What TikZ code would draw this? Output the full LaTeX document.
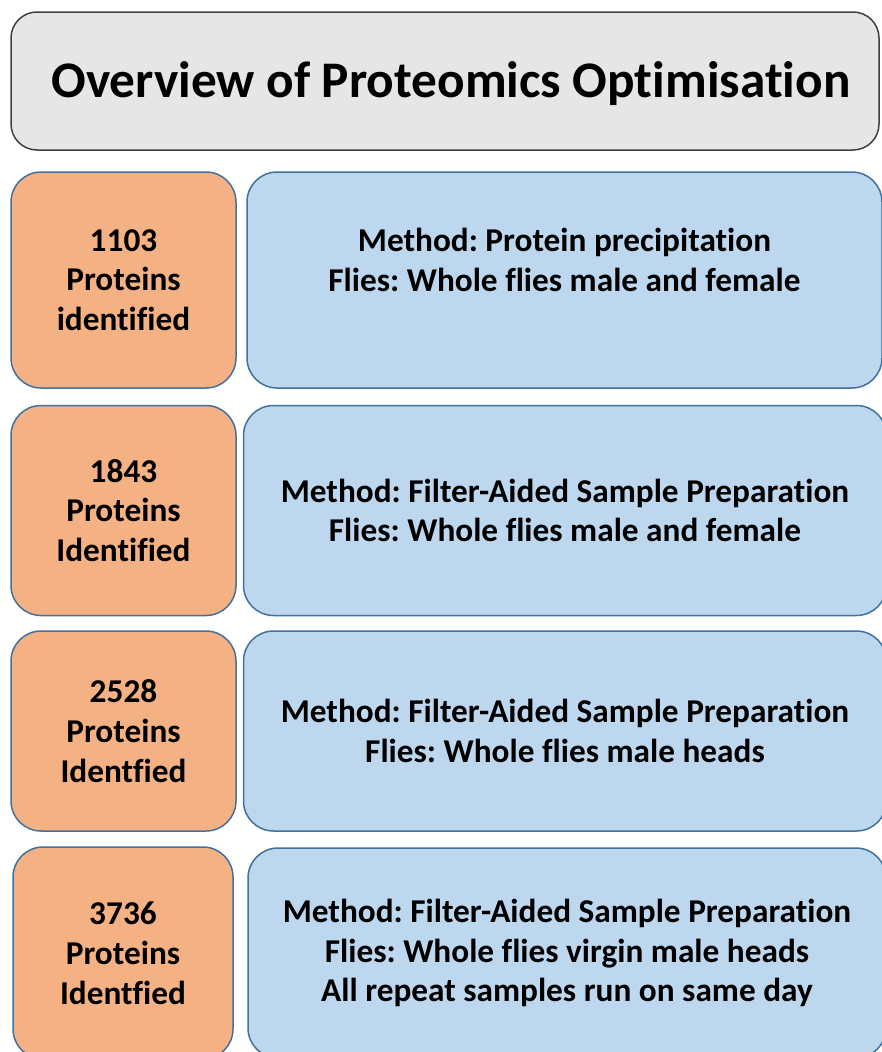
\documentclass[tikz,border=0pt]{standalone}
\usepackage{fontspec}
\setmainfont{Carlito}[Ligatures=NoCommon]
\frenchspacing
\definecolor{titlefill}{HTML}{E7E6E6}
\definecolor{titleline}{HTML}{404040}
\definecolor{numfill}{HTML}{F4B183}
\definecolor{infofill}{HTML}{BDD7EE}
\definecolor{tileline}{HTML}{41719C}
\tikzset{
  tile/.style={rectangle, rounded corners=30pt, line width=1.5pt, draw=tileline,
    align=center, inner sep=0pt, font=\fontsize{33.3}{39.8}\selectfont\bfseries},
  titlebox/.style={tile, rounded corners=26pt, draw=titleline, fill=titlefill},
  headfont/.style={font=\fontsize{51.3}{60}\selectfont\bfseries},
  numbox/.style={tile, fill=numfill},
  infobox/.style={tile, fill=infofill},
}
\begin{document}
\begin{tikzpicture}[x=1pt,y=-1pt]
\useasboundingbox (0,0) rectangle (881,1052);

% heading
\node[titlebox, minimum width=868pt, minimum height=138pt] (title) at (445,81) {};
\node[headfont] (titletext) at (451,84) {Overview of Proteomics Optimisation};

% row 1
\node[numbox, minimum width=225pt, minimum height=216pt] (n1) at (123.5,280)
  {1103\\Proteins\\identified};
\node[infobox, minimum width=635pt, minimum height=216pt] (m1) at (564.5,280)
  {Method: Protein precipitation\\Flies: Whole flies male and female\\\mbox{}};

% row 2
\node[numbox, minimum width=225pt, minimum height=210pt] (n2) at (123.5,510.5)
  {1843\\Proteins\\Identified};
\node[infobox, minimum width=643pt, minimum height=210pt] (m2) at (565,510.5)
  {Method: Filter-Aided Sample Preparation\\Flies: Whole flies male and female};

% row 3
\node[numbox, minimum width=225pt, minimum height=200pt] (n3) at (123.5,731)
  {2528\\Proteins\\Identfied};
\node[infobox, minimum width=643pt, minimum height=200pt] (m3) at (565,731)
  {Method: Filter-Aided Sample Preparation\\Flies: Whole flies male heads};

% row 4
\node[numbox, minimum width=220pt, minimum height=212pt] (n4) at (123,953)
  {3736\\Proteins\\Identfied};
\node[infobox, minimum width=638pt, minimum height=210pt] (m4) at (567,953)
  {Method: Filter-Aided Sample Preparation\\Flies: Whole flies virgin male heads\\All repeat samples run on same day};
\end{tikzpicture}
\end{document}
